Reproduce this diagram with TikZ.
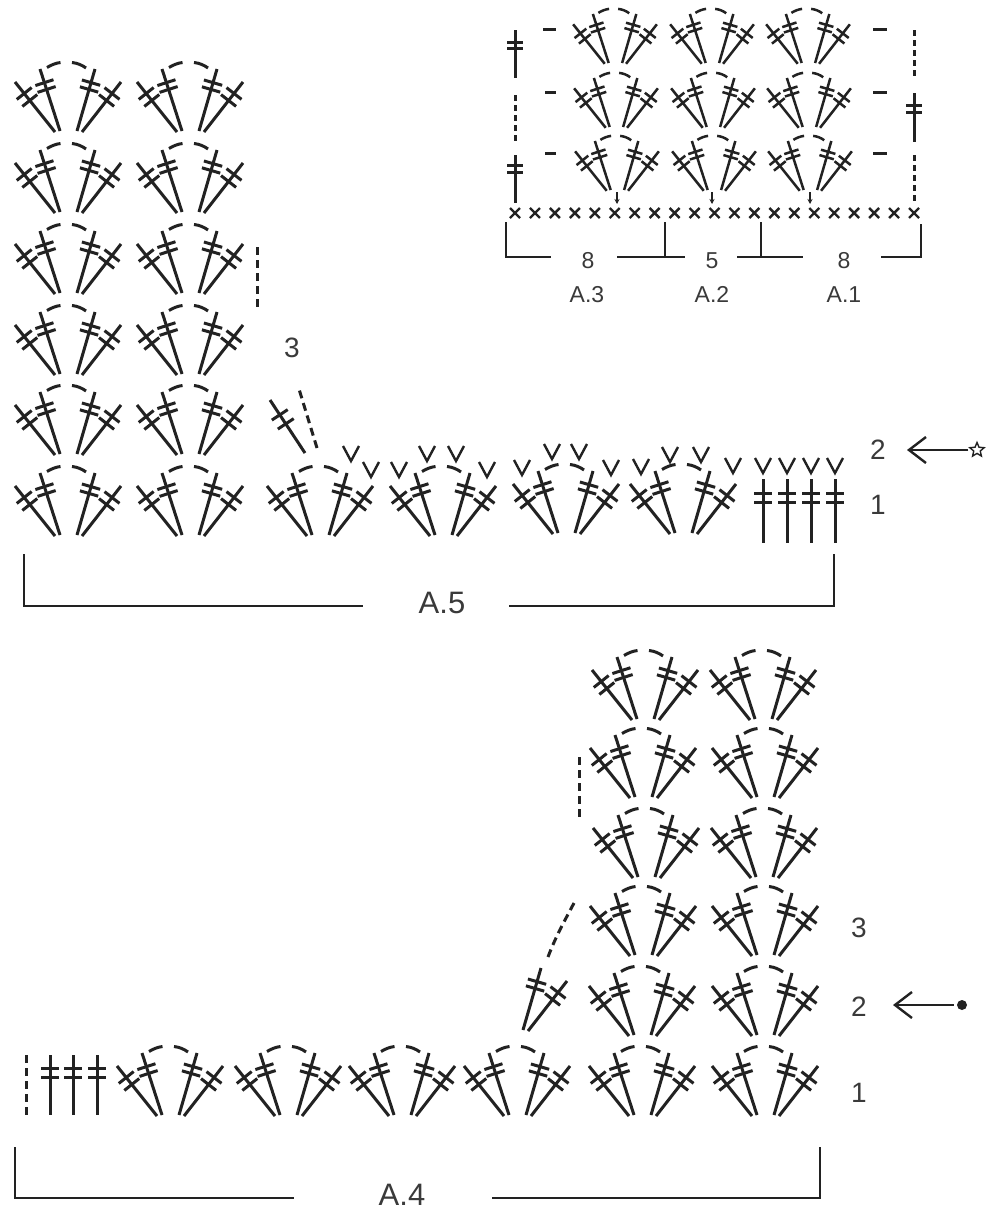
\documentclass[tikz,border=0pt]{standalone}
\usepackage{fontspec}
\setmainfont{Liberation Sans}
\usetikzlibrary{arrows.meta,shapes.geometric}
\definecolor{ink}{HTML}{222222}
\definecolor{lab}{HTML}{3A3A3A}
\def\stw{3pt}
\newcommand\hookst[6]{%
  \draw[st] (#1,#2) -- (#3,#4);
  \pgfmathsetmacro\dxx{#3-(#1)}\pgfmathsetmacro\dyy{#4-(#2)}
  \pgfmathsetmacro\lenn{veclen(\dxx,\dyy)}
  \pgfmathsetmacro\nx{-\dyy/\lenn*9.5}\pgfmathsetmacro\ny{\dxx/\lenn*9.5}
  \foreach \tt in {#5,#6}{
    \pgfmathsetmacro\px{#1+\tt*\dxx}\pgfmathsetmacro\py{#2+\tt*\dyy}
    \draw[st] (\px-\nx,\py-\ny) -- (\px+\nx,\py+\ny);
  }%
}
\newcommand\fanR{%
    \hookst{9}{0}{27}{-62}{.67}{.78}
    \hookst{14}{1}{53}{-49}{.63}{.77}
}
\newcommand\fanL{%
    \hookst{-8}{0}{-28}{-62}{.67}{.78}
    \hookst{-13}{1}{-53}{-49}{.63}{.77}
}
\newcommand\fanarc{%
    \draw[st] (-21,-63.5) .. controls (-17,-66) and (-12,-68) .. (-7.5,-68.5);
    \draw[st] (4,-68.5) .. controls (9,-68) and (14,-66) .. (18,-63);
}
\newcommand\fanat[2]{\begin{scope}[shift={(#1,#2)}]\fanL\fanR\fanarc\end{scope}}
\newcommand\smallfan[2]{\begin{scope}[shift={(#1,#2)},scale=.79]\def\stw{2.5pt}\fanL\fanR\fanarc\end{scope}}
\tikzset{
  x=1pt,y=-1pt,
  st/.style={draw=ink,line width=\stw},
  dsh/.style={draw=ink,line width=3pt,dash pattern=on 8pt off 5pt},
  dsd/.style={draw=ink,line width=3pt,dash pattern=on 6pt off 4pt},
  brk/.style={draw=ink,line width=2.8pt,line cap=rect},
  lbl/.style={text=lab,font=\fontsize{28}{30}\selectfont,inner sep=0pt},
  lbs/.style={text=lab,font=\fontsize{23}{25}\selectfont,inner sep=0pt,anchor=base},
  lbb/.style={text=lab,font=\fontsize{31}{33}\selectfont,inner sep=0pt},
  vv/.pic={\draw[draw=ink,line width=2.4pt] (-8,-15) -- (0,0) -- (8,-15);},
  xx/.pic={\draw[draw=ink,line width=2.4pt] (-5,-5) -- (5,5) (-5,5) -- (5,-5);},
}
\begin{document}
\begin{tikzpicture}
\useasboundingbox[fill=white] (0,0) rectangle (990,1211);
% A.5 stack
\foreach \yy in {131,212,293,374,454,535}{
  \fanat{68}{\yy} \fanat{190}{\yy}
}
\fanat{320}{535}
\fanat{443}{535}
\fanat{566}{533}
\fanat{683}{533}
\hookst{305}{453}{270}{400}{.55}{.72}
\draw[dsh] (317,448) -- (299,389);
\draw[dsh] (257,247) -- (257,310);
\foreach \xx/\yy in {351/461,371/477,399/477,427/461,456/461,487/477,522/475,552/459,579/459,611/475,641/474,670/462,701/462,733/473,763/473,787/473,811/473,835/473}{
  \pic at (\xx,\yy) {vv};
}
\foreach \xx in {763,787,811,835}{
  \draw[st] (\xx,479) -- (\xx,543);
  \draw[st] (\xx-9,493) -- (\xx+9,493) (\xx-9,502) -- (\xx+9,502);
}
\draw[brk] (24,555) -- (24,606) -- (362,606);
\draw[brk] (510,606) -- (834,606) -- (834,555);
\node[lbb] (a5) at (442,603) {A.5};
\node[lbl] (n3a) at (292,348) {3};
\node[lbl] (n2a) at (878,450) {2};
\node[lbl] (n1a) at (878,505) {1};
\node[draw=ink,line width=1.4pt,star,star points=5,star point ratio=2.2,minimum size=15pt,inner sep=0pt] (sa) at (977,450) {};
\draw[draw=ink,line width=2.4pt,shorten <=3pt,-{Straight Barb[length=17pt,width=26pt]}] (sa.west) -- (907,450);
% Block A.1-A.3
\foreach \xx in {615,712,808}{
  \smallfan{\xx}{63}
  \smallfan{\xx+1}{127}
  \smallfan{\xx+2}{190}
}
\foreach \ii in {0,...,20}{ \pic at (515+\ii*19.95,213) {xx}; }
\foreach \xx in {617,712,810}{
  \draw[draw=ink,line width=1.3pt,-{Stealth[length=5pt,width=5pt]}] (\xx,192) -- (\xx,204);
}
\foreach \xa/\ya/\xb in {543/29/556,545/92/556,545/153/556,873/29/887,873/92/887,873/153/887}{
  \draw[st] (\xa,\ya) -- (\xb,\ya);
}
\draw[st] (515,30) -- (515,78) (507,42) -- (523,42) (507,48) -- (523,48);
\draw[dsd] (515,95) -- (515,142);
\draw[st] (515,155) -- (515,203) (507,165) -- (523,165) (507,172) -- (523,172);
\draw[dsd] (914,30) -- (914,78);
\draw[st] (914,93) -- (914,142) (906,105) -- (922,105) (906,112) -- (922,112);
\draw[dsd] (914,155) -- (914,202);
\draw[brk] (506,223) -- (506,257) -- (550,257);
\draw[brk] (618,257) -- (684,257) (665,223) -- (665,257);
\draw[brk] (738,257) -- (802,257) (761,223) -- (761,257);
\draw[brk] (882,257) -- (921,257) -- (921,225);
\node[lbs] (n8a) at (588,268) {8};
\node[lbs] (n5) at (712,268) {5};
\node[lbs] (n8b) at (844,268) {8};
\node[lbs] (a3) at (587,302) {A.3};
\node[lbs] (a2) at (712,302) {A.2};
\node[lbs] (a1) at (844,302) {A.1};
% A.4 stack
\foreach \xx in {170,288,402,517,642,765}{ \fanat{\xx}{1115} }
\foreach \xx/\xb/\yy in {645/763/719,643/765/797,646/764/877,643/765/955,642/765/1035}{
  \fanat{\xx}{\yy} \fanat{\xb}{\yy}
}
\begin{scope}[shift={(514,1030)}]\fanR\end{scope}
\draw[dsh] (548,957) .. controls (555,938) and (565,920) .. (574,903);
\draw[dsh] (579,757) -- (579,818);
\draw[dsh] (26,1055) -- (26,1115);
\foreach \xx in {50,73,97}{
  \draw[st] (\xx,1055) -- (\xx,1115);
  \draw[st] (\xx-9,1068) -- (\xx+9,1068) (\xx-9,1077) -- (\xx+9,1077);
}
\draw[brk] (15,1148) -- (15,1198) -- (293,1198);
\draw[brk] (493,1198) -- (820,1198) -- (820,1148);
\node[lbb] (a4) at (402,1195) {A.4};
\node[lbl] (n3b) at (859,928) {3};
\node[lbl] (n2b) at (859,1007) {2};
\node[lbl] (n1b) at (859,1093) {1};
\node[circle,fill=ink,minimum size=10pt,inner sep=0pt] (sb) at (962,1005) {};
\draw[draw=ink,line width=2.4pt,shorten <=3pt,-{Straight Barb[length=17pt,width=26pt]}] (sb.west) -- (893,1005);
\end{tikzpicture}
\end{document}
